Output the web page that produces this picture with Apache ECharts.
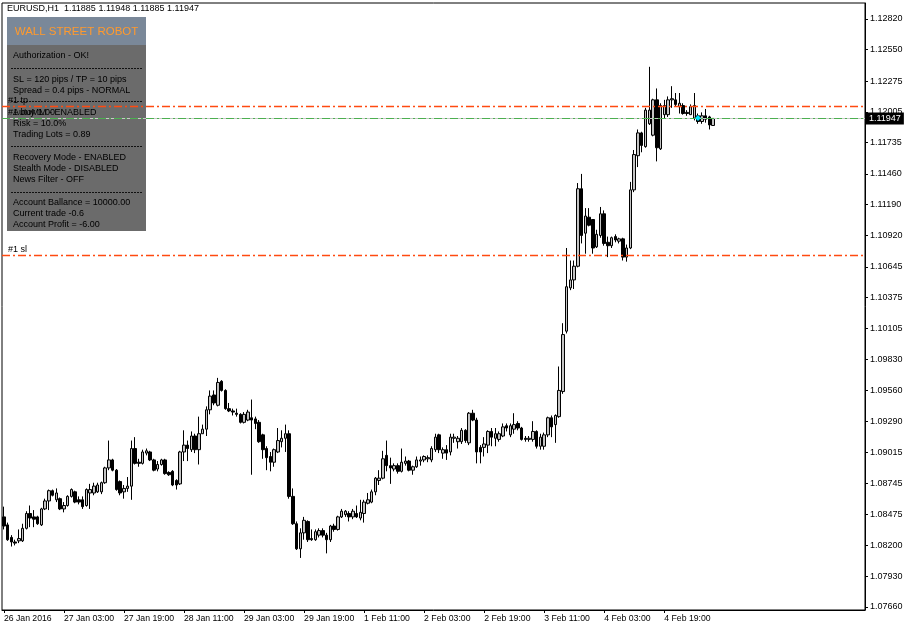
<!DOCTYPE html>
<html><head><meta charset="utf-8">
<script src="https://cdn.jsdelivr.net/npm/echarts@6/dist/echarts.min.js"></script>
<style>html,body{margin:0;padding:0;background:#fff}#c{width:909px;height:630px}</style>
</head><body><div id="c"></div>
<script>
const symbol = 'EURUSD', timeframe = 'H1';

const opens = [
1.0845,1.0838,1.0827,1.0823,1.0824,1.0824,1.0835,1.0848,1.0845,1.0845,
1.0838,1.0852,1.0859,1.0868,1.0860,1.0861,1.0852,1.0855,1.0863,1.0867,
1.0860,1.0860,1.0855,1.0866,1.0866,1.0867,1.0867,1.0875,1.0888,1.0895,
1.0886,1.0876,1.0867,1.0870,1.0872,1.0905,1.0893,1.0892,1.0901,1.0902,
1.0895,1.0887,1.0891,1.0895,1.0884,1.0885,1.0877,1.0874,1.0902,1.0908,
1.0904,1.0916,1.0904,1.0918,1.0922,1.0939,1.0952,1.0943,1.0964,1.0956,
1.0940,1.0938,1.0936,1.0935,1.0928,1.0930,1.0932,1.0931,1.0928,1.0917,
1.0905,1.0898,1.0893,1.0902,1.0911,1.0914,1.0918,1.0863,1.0839,1.0817,
1.0831,1.0841,1.0826,1.0825,1.0829,1.0833,1.0829,1.0825,1.0837,1.0834,
1.0845,1.0847,1.0848,1.0845,1.0848,1.0844,1.0848,1.0857,1.0858,1.0867,
1.0877,1.0879,1.0899,1.0890,1.0887,1.0890,1.0885,1.0892,1.0894,1.0886,
1.0889,1.0894,1.0895,1.0896,1.0895,1.0904,1.0917,1.0901,1.0904,1.0902,
1.0914,1.0911,1.0911,1.0921,1.0910,1.0936,1.0930,1.0906,1.0906,1.0908,
1.0920,1.0914,1.0913,1.0916,1.0925,1.0917,1.0922,1.0927,1.0923,1.0914,
1.0913,1.0913,1.0920,1.0907,1.0907,1.0917,1.0932,1.0926,1.0933,1.0955,
1.1008,1.1046,1.1053,1.1065,1.1133,1.1094,1.1108,1.1106,1.1082,1.1092,
1.1111,1.1086,1.1083,1.1091,1.1087,1.1089,1.1073,1.1081,1.1132,1.1162,
1.1182,1.1170,1.1190,1.1180,1.1211,1.1168,1.1198,1.1198,1.1211,1.1211,
1.1205,1.1206,1.1200,1.1198,1.1195,1.1197,1.1192,1.1197,1.1196,1.11885];

const closes = [
1.0837,1.0825,1.0823,1.0822,1.0826,1.0835,1.0848,1.0844,1.0843,1.0839,
1.0852,1.0859,1.0868,1.0864,1.0866,1.0852,1.0855,1.0863,1.0869,1.0858,
1.0858,1.0854,1.0869,1.0869,1.0872,1.0873,1.0875,1.0888,1.0895,1.0886,
1.0869,1.0866,1.0870,1.0872,1.0905,1.0892,1.0892,1.0902,1.0903,1.0895,
1.0886,1.0891,1.0895,1.0883,1.0882,1.0873,1.0873,1.0902,1.0908,1.0905,
1.0916,1.0904,1.0918,1.0922,1.0939,1.0951,1.0945,1.0963,1.0956,1.0940,
1.0938,1.0937,1.0935,1.0928,1.0935,1.0937,1.0930,1.0927,1.0911,1.0904,
1.0897,1.0893,1.0904,1.0912,1.0914,1.0918,1.0863,1.0839,1.0817,1.0831,
1.0842,1.0825,1.0825,1.0832,1.0833,1.0829,1.0825,1.0837,1.0834,1.0845,
1.0850,1.0850,1.0845,1.0850,1.0845,1.0849,1.0858,1.0860,1.0867,1.0879,
1.0879,1.0896,1.0890,1.0888,1.0890,1.0885,1.0893,1.0894,1.0886,1.0889,
1.0895,1.0895,1.0898,1.0897,1.0905,1.0915,1.0904,1.0904,1.0901,1.0915,
1.0915,1.0914,1.0921,1.0912,1.0936,1.0930,1.0902,1.0902,1.0909,1.0920,
1.0915,1.0918,1.0918,1.0924,1.0923,1.0925,1.0926,1.0923,1.0913,1.0913,
1.0914,1.0920,1.0907,1.0915,1.0917,1.0932,1.0924,1.0934,1.0956,1.1005,
1.1047,1.1053,1.1065,1.1133,1.1092,1.1109,1.1101,1.1081,1.1093,1.1111,
1.1085,1.1083,1.1090,1.1088,1.1089,1.1073,1.1081,1.1132,1.1163,1.1182,
1.1171,1.1202,1.1202,1.1211,1.1169,1.1206,1.1206,1.1211,1.1212,1.1207,
1.1208,1.1199,1.1199,1.1205,1.1206,1.1192,1.1197,1.1194,1.1189,1.11947];

const lows = [
1.0834,1.0824,1.0819,1.0820,1.0822,1.0823,1.0834,1.0836,1.0836,1.0838,
1.0837,1.0851,1.0851,1.0863,1.0858,1.0851,1.0849,1.0854,1.0862,1.0857,
1.0856,1.0852,1.0854,1.0852,1.0864,1.0866,1.0865,1.0874,1.0886,1.0885,
1.0868,1.0864,1.0861,1.0867,1.0860,1.0891,1.0889,1.0891,1.0899,1.0894,
1.0885,1.0885,1.0890,1.0882,1.0881,1.0872,1.0869,1.0873,1.0894,1.0894,
1.0902,1.0901,1.0891,1.0918,1.0916,1.0935,1.0943,1.0942,1.0955,1.0939,
1.0937,1.0934,1.0933,1.0927,1.0927,1.0929,1.0882,1.0922,1.0910,1.0896,
1.0886,1.0885,1.0889,1.0901,1.0906,1.0902,1.0861,1.0838,1.0816,1.0809,
1.0825,1.0823,1.0824,1.0824,1.0827,1.0827,1.0813,1.0823,1.0832,1.0833,
1.0844,1.0845,1.0841,1.0843,1.0844,1.0842,1.0840,1.0856,1.0857,1.0864,
1.0873,1.0878,1.0885,1.0874,1.0885,1.0883,1.0884,1.0890,1.0885,1.0882,
1.0888,1.0890,1.0893,1.0893,1.0893,1.0902,1.0901,1.0896,1.0895,1.0899,
1.0910,1.0905,1.0909,1.0910,1.0908,1.0929,1.0892,1.0892,1.0898,1.0901,
1.0907,1.0907,1.0911,1.0915,1.0920,1.0915,1.0918,1.0921,1.0912,1.0911,
1.0911,1.0911,1.0905,1.0904,1.0904,1.0915,1.0915,1.0910,1.0932,1.0953,
1.1006,1.1044,1.1045,1.1064,1.1085,1.1076,1.1100,1.1076,1.1081,1.1090,
1.1083,1.1073,1.1081,1.1086,1.1085,1.1070,1.1069,1.1080,1.1130,1.1152,
1.1165,1.1169,1.1189,1.1179,1.1157,1.1167,1.1195,1.1196,1.1204,1.1205,
1.1199,1.1198,1.1197,1.1198,1.1193,1.1190,1.1190,1.1191,1.1185,1.11885];

const highs = [
1.0854,1.0840,1.0829,1.0825,1.0834,1.0839,1.0850,1.0855,1.0851,1.0846,
1.0853,1.0861,1.0869,1.0869,1.0870,1.0862,1.0858,1.0864,1.0870,1.0868,
1.0863,1.0863,1.0870,1.0874,1.0875,1.0875,1.0876,1.0889,1.0912,1.0896,
1.0887,1.0877,1.0873,1.0880,1.0912,1.0915,1.0896,1.0904,1.0905,1.0903,
1.0896,1.0894,1.0896,1.0896,1.0885,1.0886,1.0878,1.0903,1.0921,1.0912,
1.0920,1.0918,1.0933,1.0926,1.0942,1.0956,1.0956,1.0967,1.0965,1.0957,
1.0945,1.0940,1.0940,1.0936,1.0937,1.0939,1.0948,1.0933,1.0930,1.0918,
1.0907,1.0902,1.0905,1.0923,1.0921,1.0926,1.0921,1.0870,1.0841,1.0835,
1.0845,1.0842,1.0834,1.0834,1.0835,1.0835,1.0831,1.0838,1.0839,1.0846,
1.0852,1.0851,1.0850,1.0852,1.0855,1.0860,1.0860,1.0866,1.0869,1.0880,
1.0886,1.0903,1.0912,1.0897,1.0892,1.0892,1.0905,1.0898,1.0895,1.0890,
1.0898,1.0898,1.0899,1.0899,1.0907,1.0918,1.0918,1.0906,1.0908,1.0918,
1.0918,1.0916,1.0923,1.0922,1.0937,1.0939,1.0932,1.0908,1.0915,1.0921,
1.0923,1.0923,1.0920,1.0927,1.0927,1.0927,1.0936,1.0929,1.0924,1.0916,
1.0916,1.0929,1.0921,1.0918,1.0919,1.0933,1.0934,1.0935,1.0977,1.1015,
1.1081,1.1070,1.1070,1.1138,1.1146,1.1116,1.1116,1.1106,1.1097,1.1117,
1.1114,1.1091,1.1091,1.1093,1.1090,1.1090,1.1084,1.1139,1.1167,1.1185,
1.1183,1.1204,1.1240,1.1212,1.1221,1.1208,1.1211,1.1214,1.1223,1.1217,
1.1217,1.1208,1.1202,1.1207,1.1217,1.1199,1.1200,1.1203,1.1197,1.11948];

const timeLabels = ['26 Jan 2016','27 Jan 03:00','27 Jan 19:00','28 Jan 11:00','29 Jan 03:00','29 Jan 19:00',
  '1 Feb 11:00','2 Feb 03:00','2 Feb 19:00','3 Feb 11:00','4 Feb 03:00','4 Feb 19:00'];
const labelStep = 16;
const totalSlots = 230;

const priceTicks = [1.07660,1.07930,1.08200,1.08475,1.08745,1.09015,1.09290,1.09560,1.09830,1.10105,
  1.10375,1.10645,1.10920,1.11190,1.11460,1.11735,1.12005,1.12275,1.12550,1.12820];
const priceMin = 1.07633, priceMax = 1.12960;

const tpPrice = 1.12056, entryPrice = 1.11951, slPrice = 1.10749;
const entryBar = 185;
const orderLabel = '#1 buy 1.00';

const panelTitle = 'WALL STREET ROBOT';
const panelRows = [
  ['Authorization - OK!', 56], ['-', 68.5],
  ['SL = 120 pips / TP = 10 pips', 79.3], ['Spread = 0.4 pips - NORMAL', 90.3], ['-', 101.5],
  ['AutoMM - ENABLED', 112.7], ['Risk = 10.0%', 124], ['Trading Lots = 0.89', 135], ['-', 146.5],
  ['Recovery Mode - ENABLED', 157.5], ['Stealth Mode - DISABLED', 168.7], ['News Filter - OFF', 180], ['-', 192.5],
  ['Account Ballance = 10000.00', 202.7], ['Current trade -0.6', 213.7], ['Account Profit = -6.00', 225]
];

const FONT = '"Liberation Sans", Arial, sans-serif';
const candles = opens.map((o, i) => [o, closes[i], lows[i], highs[i]]);
const slots = Array.from({length: totalSlots}, (_, i) => String(i));
const last = candles.length - 1;
const fmt = v => v.toFixed(5);
const header = symbol + ',' + timeframe + '  ' + fmt(opens[last]) + ' ' + fmt(highs[last]) + ' ' + fmt(lows[last]) + ' ' + fmt(closes[last]);
const showIdx = i => i % labelStep === 0 && i / labelStep < timeLabels.length;

const graphics = [
  {type:'text', x:7, y:9, z:5, style:{text:header, fill:'#000', font:'9px ' + FONT, verticalAlign:'middle'}},
  {type:'rect', z:1, shape:{x:7, y:17, width:139, height:214}, style:{fill:'#6b6b6b'}},
  {type:'rect', z:1, shape:{x:7, y:17, width:139, height:28}, style:{fill:'#7a8899'}},
  {type:'text', z:1, x:76.5, y:31.5, style:{text:panelTitle, fill:'#FF9A2E', font:'11.5px ' + FONT, align:'center', verticalAlign:'middle'}}
];
panelRows.forEach(([t, y]) => {
  if (t === '-') graphics.push({type:'line', z:1, shape:{x1:11, y1:y, x2:142, y2:y}, style:{stroke:'#111', lineWidth:1, lineDash:[2,1]}});
  else graphics.push({type:'text', z:1, x:13, y:y, style:{text:t, fill:'#000', font:'9px ' + FONT, verticalAlign:'middle'}});
});

const dashDot = [8,3,2,3];
const ORANGE = '#ff4a10';
const lineLabel = (txt) => ({show:true, position:'insideStartTop', formatter:txt, color:'#000', fontSize:9, distance:[6,1], fontFamily:FONT});
function hLine(price, color, type, label, width) {
  return {
    type:'line', data:[], z:4, silent:true, color:color,
    markLine:{
      symbol:['none','none'], silent:true, animation:false, precision:5,
      lineStyle:{color:color, type:type, width:width || 1, opacity:1},
      emphasis:{disabled:true},
      label:label,
      data:[{yAxis:price}]
    }
  };
}

const chart = echarts.init(document.getElementById('c'), null, {renderer:'canvas'});
chart.setOption({
  animation:false,
  backgroundColor:'#fff',
  textStyle:{fontFamily:FONT},
  grid:{left:2, right:44, top:3, bottom:20, show:true, borderColor:'#000', borderWidth:1, backgroundColor:'#fff'},
  xAxis:{
    type:'category', data:slots, boundaryGap:true,
    axisLine:{show:true, lineStyle:{color:'#000'}},
    axisTick:{show:true, alignWithLabel:true, interval:showIdx, length:3, lineStyle:{color:'#000'}},
    axisLabel:{interval:showIdx, formatter:(v, i) => timeLabels[i / labelStep] || '', align:'left', color:'#000', fontSize:8.7, margin:4, fontFamily:FONT},
    splitLine:{show:false}
  },
  yAxis:{
    type:'value', position:'right', min:priceMin, max:priceMax,
    axisLine:{show:true, lineStyle:{color:'#000'}},
    axisTick:{show:true, length:3, customValues:priceTicks, lineStyle:{color:'#000'}},
    axisLabel:{customValues:priceTicks, formatter:fmt, color:'#000', fontSize:9, margin:5, fontFamily:FONT},
    splitLine:{show:false}
  },
  graphic:{elements:graphics},
  series:[
    {
      type:'candlestick', data:candles, barWidth:3, z:3,
      itemStyle:{color:'#c4c4c4', color0:'#000000', borderColor:'#000000', borderColor0:'#000000', borderWidth:1},
      markPoint:{
        silent:true, animation:false,
        data:[{coord:[entryBar, entryPrice], symbol:'diamond', symbolSize:6, itemStyle:{color:'#00e5ff'}, label:{show:false}}]
      }
    },
    hLine(closes[last], '#c8c8c8', 'solid',
      {show:true, position:'end', formatter:fmt(closes[last]), backgroundColor:'#000', color:'#fff', padding:[2,3,1,3], fontSize:9, distance:1, fontFamily:FONT}),
    hLine(entryPrice, '#4caf50', dashDot, lineLabel(orderLabel), 1.2),
    hLine(tpPrice, ORANGE, dashDot, lineLabel('#1 tp'), 1.4),
    hLine(slPrice, ORANGE, dashDot, lineLabel('#1 sl'), 1.4)
  ]
});
</script></body></html>
